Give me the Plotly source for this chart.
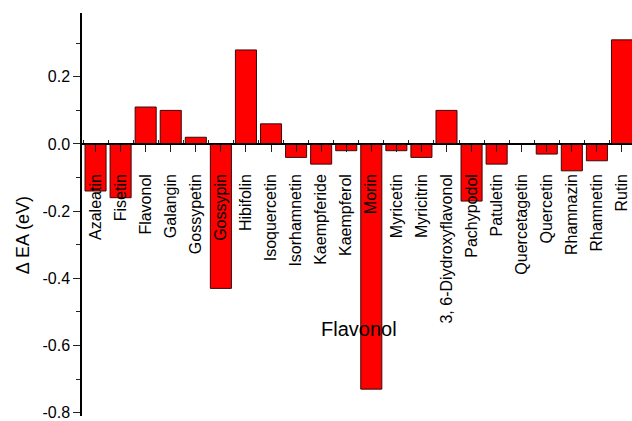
import plotly.graph_objects as go

# Flavonol compounds and their change in electron affinity (eV)
compounds = [
    "Azaleatin", "Fisetin", "Flavonol", "Galangin", "Gossypetin", "Gossypin",
    "Hibifolin", "Isoquercetin", "Isorhamnetin", "Kaempferide", "Kaempferol",
    "Morin", "Myricetin", "Myricitrin", "3, 6-Diydroxyflavonol", "Pachypodol",
    "Patuletin", "Quercetagetin", "Quercetin", "Rhamnazin", "Rhamnetin", "Rutin",
]
delta_ea = [
    -0.14, -0.16, 0.11, 0.10, 0.02, -0.43,
    0.28, 0.06, -0.04, -0.06, -0.02,
    -0.73, -0.02, -0.04, 0.10, -0.17,
    -0.06, 0.00, -0.03, -0.08, -0.05, 0.31,
]
y_tick_values = [0.2, 0.0, -0.2, -0.4, -0.6, -0.8]
y_tick_labels = ["0.2", "0.0", "-0.2", "-0.4", "-0.6", "-0.8"]

FONT = "Arial, Liberation Sans, sans-serif"
y_range = [-0.81, 0.39]
x_pos = list(range(len(compounds)))

fig = go.Figure(
    go.Bar(
        x=x_pos,
        y=delta_ea,
        width=0.84,
        marker=dict(color="#ff0000", line=dict(color="#3a0a0a", width=1)),
    )
)

fig.update_layout(
    width=632,
    height=421,
    margin=dict(l=82, r=0, t=13, b=3),
    paper_bgcolor="white",
    plot_bgcolor="white",
    showlegend=False,
    font=dict(family=FONT, color="black", size=16),
)

fig.update_xaxes(
    range=[-0.54, 21.4],
    anchor="free",
    position=(0 - y_range[0]) / (y_range[1] - y_range[0]),
    showline=True,
    linecolor="black",
    linewidth=1.5,
    showgrid=False,
    zeroline=False,
    tickmode="array",
    tickvals=x_pos,
    ticktext=compounds,
    tickangle=-90,
    ticks="outside",
    ticklen=7,
    tickwidth=1.2,
    tickcolor="#222",
    ticklabelstandoff=16,
    tickfont=dict(size=16, family=FONT),
    minor=dict(ticks="inside", ticklen=3, tickwidth=1, tickcolor="#222",
               tick0=0.5, dtick=1),
)

fig.update_yaxes(
    range=y_range,
    showline=True,
    linecolor="black",
    linewidth=1.5,
    showgrid=False,
    zeroline=False,
    tickmode="array",
    tickvals=y_tick_values,
    ticktext=y_tick_labels,
    ticks="outside",
    ticklen=7,
    tickwidth=1.2,
    tickcolor="#222",
    ticklabeloverflow="allow",
    tickfont=dict(size=16, family=FONT),
    minor=dict(ticks="outside", ticklen=4, tickwidth=1, tickcolor="#222",
               tickvals=[0.3, 0.1, -0.1, -0.3, -0.5, -0.7]),
)

# axis title and group label
fig.add_annotation(
    text="Δ EA (eV)", xref="paper", yref="paper", x=-0.1082, y=0.45,
    xanchor="center", yanchor="middle", textangle=-90, showarrow=False,
    font=dict(size=18, family=FONT),
)
fig.add_annotation(
    text="Flavonol", xref="x", yref="y", x=10.5, y=-0.55,
    xanchor="center", yanchor="middle", showarrow=False,
    font=dict(size=20, family=FONT),
)

fig.write_html("out.html")
